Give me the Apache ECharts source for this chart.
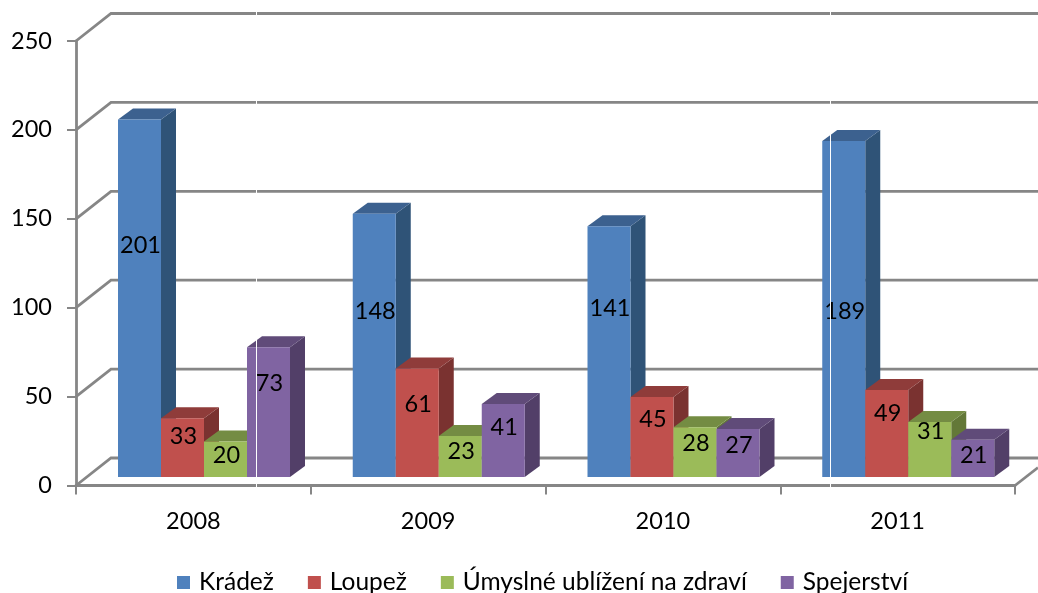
<!DOCTYPE html>
<html>
<head>
<meta charset="utf-8">
<style>
html, body { margin: 0; padding: 0; background: #fff; }
#main { width: 1038px; height: 593px; }
</style>
<script src="https://cdn.jsdelivr.net/npm/echarts@6/dist/echarts.min.js"></script>
</head>
<body>
<div id="main"></div>
<script>
var categories = ['2008', '2009', '2010', '2011'];
var yTicks = [0, 50, 100, 150, 200, 250];
var kradez = [201, 148, 141, 189];
var loupez = [33, 61, 45, 49];
var ublizeni = [20, 23, 28, 31];
var spejerstvi = [73, 41, 27, 21];

var FONT = 'Lato, "Noto Sans", sans-serif';
var GRID_COLOR = '#868686';

// front / top / side colour of the fake 3d bars
var faces = [
	['#4f81bd', '#3c618f', '#2f5377'],
	['#c0504d', '#8f3c3a', '#7a3230'],
	['#9bbb59', '#748c43', '#637838'],
	['#8064a2', '#604b79', '#523f68']
];

// px from bar top to label centre, excel places these oddly
var labelDrop = [
	[126, 98, 82, 170],
	[18, 36, 22, 24],
	[14, 15, 16, 10],
	[36, 23, 16, 16]
];

var BAR_W = 43;
var GROUP_PAD = 42;
var DEPTH_X = 15;
var DEPTH_Y = 11;
var BASE_LIFT = 8.5;
var WALL_X = 35;
var WALL_Y = 27.5;

function barSeries(name, values, idx) {
	return {
		name: name,
		type: 'custom',
		z: 3 + idx,
		clip: false,
		itemStyle: { color: faces[idx][0] },
		data: values.map(function (v, i) { return [i, v]; }),
		renderItem: function (params, api) {
			var cat = api.value(0);
			var val = api.value(1);
			var band = api.size([1, 0])[0];
			var x = api.coord([cat, 0])[0] - band / 2 + GROUP_PAD + idx * BAR_W;
			var base = api.coord([cat, 0])[1] - BASE_LIFT;
			var top = api.coord([cat, val])[1] - BASE_LIFT;
			var r = x + BAR_W;
			return {
				type: 'group',
				children: [
					{
						type: 'polygon',
						shape: { points: [[r, top], [r + DEPTH_X, top - DEPTH_Y], [r + DEPTH_X, base - DEPTH_Y], [r, base]] },
						style: { fill: faces[idx][2] }
					},
					{
						type: 'polygon',
						shape: { points: [[x, top], [x + DEPTH_X, top - DEPTH_Y], [r + DEPTH_X, top - DEPTH_Y], [r, top]] },
						style: { fill: faces[idx][1] }
					},
					{
						type: 'rect',
						shape: { x: x, y: top, width: BAR_W, height: base - top },
						style: { fill: faces[idx][0] }
					},
					{
						type: 'text',
						z2: 10,
						style: {
							x: x + BAR_W / 2 + 1,
							y: top + labelDrop[idx][cat],
							text: String(val),
							fill: '#000',
							font: '23.5px ' + FONT,
							align: 'center',
							verticalAlign: 'middle'
						}
					}
				]
			};
		}
	};
}

// perspective wall lines, one per y tick
var wallSeries = {
	type: 'custom',
	z: 1,
	clip: false,
	silent: true,
	data: yTicks.map(function (t) { return [t]; }),
	renderItem: function (params, api) {
		var p = api.coord([0, api.value(0)]);
		var left = params.coordSys.x;
		var right = params.coordSys.x + params.coordSys.width;
		var children = [{
			type: 'polyline',
			shape: { points: [[left, p[1]], [left + WALL_X, p[1] - WALL_Y], [1038, p[1] - WALL_Y]] },
			style: { fill: 'none', stroke: GRID_COLOR, lineWidth: 2.8 }
		}];
		if (api.value(0) === 0) {
			children.push({
				type: 'line',
				shape: { x1: right, y1: p[1], x2: 1038, y2: p[1] - 18 },
				style: { stroke: GRID_COLOR, lineWidth: 2.8 }
			});
		}
		return { type: 'group', children: children };
	}
};

var chart = echarts.init(document.getElementById('main'), null, { renderer: 'canvas' });

chart.setOption({
	animation: false,
	backgroundColor: '#fff',
	textStyle: { fontFamily: FONT },
	grid: { left: 76, right: 23, top: 41, bottom: 107.5 },
	legend: {
		left: 177,
		top: 570,
		itemWidth: 13,
		itemHeight: 13,
		itemGap: 34,
		icon: 'rect',
		padding: 0,
		selectedMode: false,
		textStyle: { fontFamily: FONT, fontSize: 24.5, color: '#000', padding: [0, 0, 0, 4] },
		data: ['Krádež', 'Loupež', 'Úmyslné ublížení na zdraví', 'Spejerství']
	},
	xAxis: {
		type: 'category',
		data: categories,
		z: 2,
		axisLine: { lineStyle: { color: GRID_COLOR, width: 2.8 } },
		axisTick: { show: true, length: 9, lineStyle: { color: GRID_COLOR, width: 2 } },
		axisLabel: { color: '#000', fontSize: 23.5, margin: 24, fontFamily: FONT },
		splitLine: { show: false }
	},
	yAxis: {
		type: 'value',
		min: 0,
		max: 250,
		interval: 50,
		z: 2,
		axisLine: { show: true, lineStyle: { color: GRID_COLOR, width: 2.8 } },
		axisTick: { show: true, length: 9, lineStyle: { color: GRID_COLOR, width: 2 } },
		axisLabel: { color: '#000', fontSize: 23.5, margin: 24, fontFamily: FONT },
		splitLine: { show: false }
	},
	// thin white seams that run through the source image
	graphic: [256, 830].map(function (x) {
		return {
			type: 'line',
			z: 100,
			silent: true,
			shape: { x1: x + 0.5, y1: 0, x2: x + 0.5, y2: 490 },
			style: { stroke: '#fff', lineWidth: 1 }
		};
	}),
	series: [
		wallSeries,
		barSeries('Krádež', kradez, 0),
		barSeries('Loupež', loupez, 1),
		barSeries('Úmyslné ublížení na zdraví', ublizeni, 2),
		barSeries('Spejerství', spejerstvi, 3)
	]
});
</script>
</body>
</html>
